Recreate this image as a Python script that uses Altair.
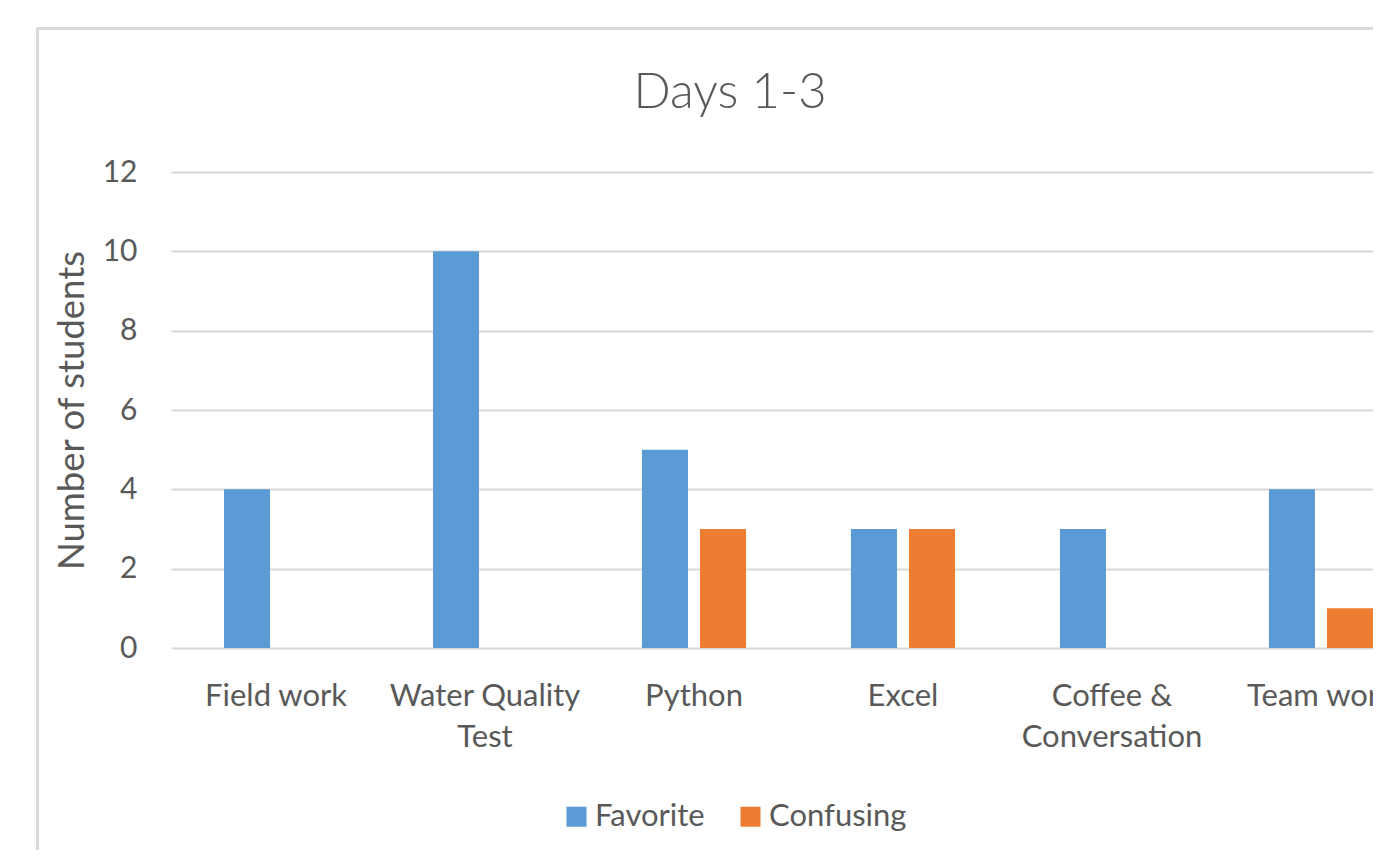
import altair as alt
import pandas as pd

categories = ["Field work", "Water Quality Test", "Python", "Excel",
              "Coffee & Conversation", "Team work"]
favorite = [4, 10, 5, 3, 3, 4]
confusing = [0, 0, 3, 3, 0, 1]
series = ["Favorite", "Confusing"]
colors = ["#5B9BD5", "#ED7D31"]
title_text = "Days 1-3"
y_title = "Number of students"
y_ticks = [0, 2, 4, 6, 8, 10, 12]

rows = []
for c, f, cf in zip(categories, favorite, confusing):
    rows.append({"activity": c, "series": series[0], "students": f})
    rows.append({"activity": c, "series": series[1], "students": cf})
df = pd.DataFrame(rows)

FONT = "Lato"
TEXT = "#595959"
GRID = "#d9d9d9"

label_expr = ("datum.value == 'Water Quality Test' ? ['Water Quality', 'Test'] : "
              "datum.value == 'Coffee & Conversation' ? ['Coffee &', 'Conversation'] : datum.label")

bars = alt.Chart(df).mark_bar().encode(
    x=alt.X("activity:N", sort=categories, title=None,
            scale=alt.Scale(paddingInner=0.502, paddingOuter=0.2536, range=[0, 1255]),
            axis=alt.Axis(labelAngle=0, labelExpr=label_expr, labelFont=FONT,
                          labelFontSize=31, labelColor=TEXT, labelPadding=33,
                          labelLineHeight=41, labelBaseline="top", domain=False,
                          ticks=False, grid=False, labelLimit=600)),
    xOffset=alt.XOffset("series:N", sort=series,
                        scale=alt.Scale(paddingInner=0.207, paddingOuter=0)),
    y=alt.Y("students:Q", scale=alt.Scale(domain=[0, 12]),
            axis=alt.Axis(values=y_ticks, title=y_title, labelFont=FONT,
                          labelFontSize=30, labelColor=TEXT, labelPadding=34,
                          ticks=False, domain=False, gridColor=GRID, gridWidth=2,
                          titleFont=FONT, titleFontSize=36.5, titleFontWeight="normal",
                          titleColor=TEXT, titleX=-88, titleY=238,
                          titleBaseline="alphabetic", titleAlign="center")),
    color=alt.Color("series:N", sort=series,
                    scale=alt.Scale(domain=series, range=colors),
                    legend=alt.Legend(title=None, orient="none", direction="horizontal",
                                      legendX=390, legendY=629, symbolType="square",
                                      symbolSize=400, symbolStrokeWidth=0,
                                      labelFont=FONT, labelFontSize=31,
                                      labelColor=TEXT, labelOffset=3,
                                      columnPadding=30)),
)

border = alt.Chart(pd.DataFrame({"k": [0]})).mark_rect(
    filled=False, stroke=GRID, strokeWidth=3
).encode(x=alt.value(-133.5), x2=alt.value(3000),
         y=alt.value(-143.5), y2=alt.value(3000))

title = alt.Chart(pd.DataFrame({"t": [title_text]})).mark_text(
    font=FONT, fontSize=49, fontWeight=300, color=TEXT,
    baseline="alphabetic", align="center"
).encode(text="t:N", x=alt.value(559), y=alt.value(-64))

chart = alt.layer(border, bars, title).properties(
    width=1202, height=476,
    autosize=alt.AutoSizeParams(type="none"),
    padding={"left": 163, "top": 164, "right": 0, "bottom": 202},
).configure_view(strokeWidth=0)

chart.save("out.html", embed_options={"renderer": "svg", "actions": False})
